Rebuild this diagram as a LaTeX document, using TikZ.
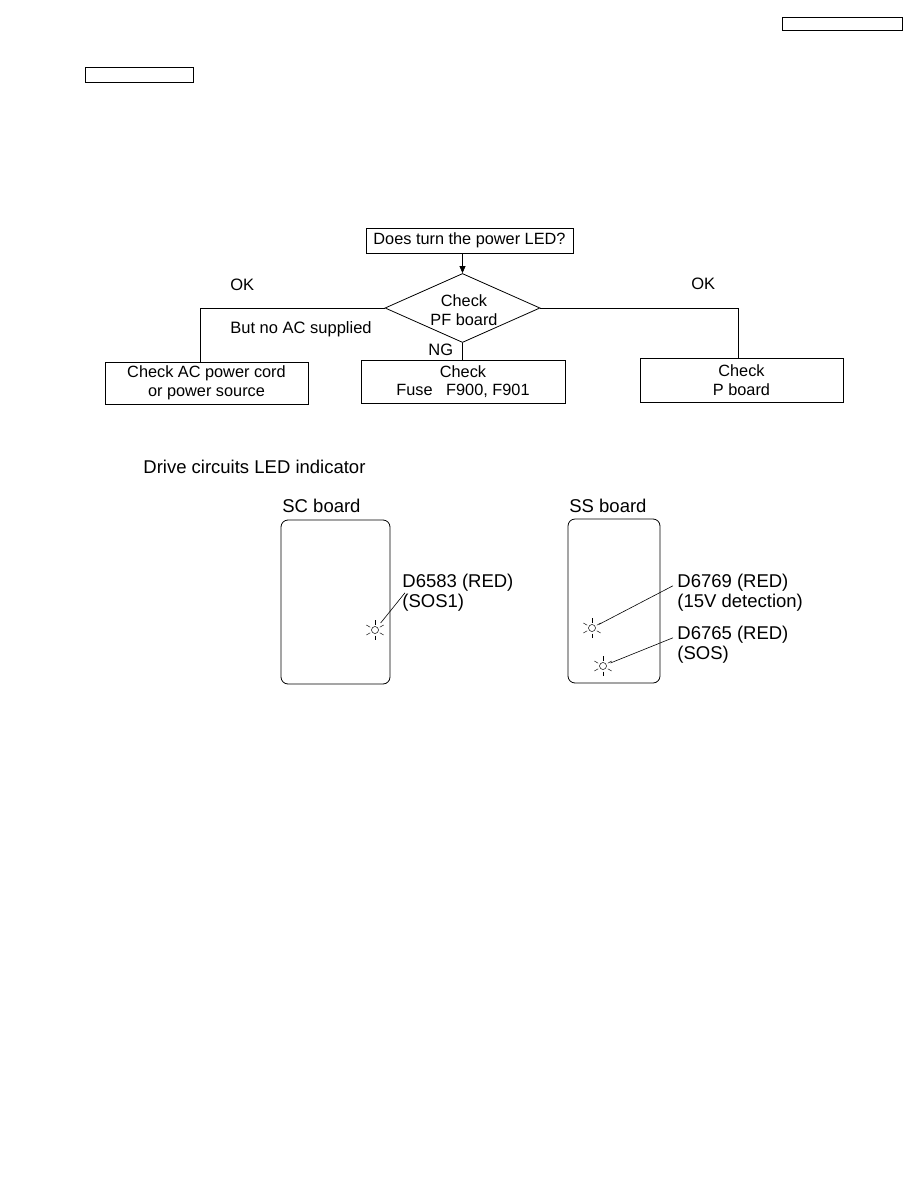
\documentclass[tikz,border=0pt]{standalone}
\usepackage{fontspec}
\setmainfont{Liberation Sans}
\usetikzlibrary{shapes.geometric,arrows.meta,calc}

\begin{document}
\begin{tikzpicture}[x=1pt, y=-1pt, line width=0.8pt,
    chkbox/.style={draw, align=center, inner sep=0pt, font=\fontsize{16.3}{18.5}\selectfont},
    flowtxt/.style={font=\fontsize{16.5}{19}\selectfont, inner sep=0pt, anchor=base west},
    boardtxt/.style={font=\fontsize{18.5}{19.5}\selectfont, inner sep=0pt, anchor=base west},
    ledtxt/.style={font=\fontsize{18.5}{19.5}\selectfont, inner sep=0pt, align=left, anchor=north west},
    board/.style={draw, rounded corners=7pt},
    led/.pic={
      \draw[line width=0.5pt] (0,0) circle (3.5);
      \foreach \a in {30,90,150,210,270,330}
        \draw[line width=0.45pt] (\a:5.5) -- (\a:10);
    }]
  \useasboundingbox (0,0) rectangle (918,1188);

  % --- page header boxes ---------------------------------------------------
  \draw (782,17) rectangle (902,30);
  \draw (85,67) rectangle (193,82);

  % --- flowchart -------------------------------------------------------------
  \node[chkbox, minimum width=207, minimum height=25] (led) at (469.5,240.5) {Does turn the power LED?};
  \node[draw, diamond, aspect=2.25, minimum width=155, minimum height=69, inner sep=0pt] (pf) at (462.5,308) {};
  \node[align=center, inner sep=0pt, font=\fontsize{16.3}{19}\selectfont] (pftxt) at (464,310) {Check\\PF board};
  \node[chkbox, minimum width=203, minimum height=42] (ac) at (206.5,383) {Check AC power cord\\or power source};
  \node[chkbox, minimum width=204, minimum height=43] (fuse) at (463,381.5) {Check\\Fuse\ \ \ F900, F901};
  \node[chkbox, minimum width=203, minimum height=44] (pb) at (741.5,380) {Check\\P board};

  \draw[-{Triangle[length=7pt,width=6pt]}] (led.south -| pf.north) -- (pf.north);
  \draw (pf.west) -| ([xshift=-6pt]ac.north);
  \draw (pf.south) -- (pf.south |- fuse.north);
  \draw (pf.east) -| ([xshift=-3pt]pb.north);

  \node[flowtxt] (okl) at (230,290) {OK};
  \node[flowtxt] (okr) at (691,289) {OK};
  \node[flowtxt] (noac) at (230,333) {But no AC supplied};
  \node[flowtxt] (ng) at (428,355) {NG};

  % --- LED indicator boards --------------------------------------------------
  \node[boardtxt] (drive) at (143,473) {Drive circuits LED indicator};

  \node[boardtxt] (sclbl) at (282,512) {SC board};
  \draw[board] (281,520) rectangle (390,684);
  \node[boardtxt] (sslbl) at (569,512) {SS board};
  \draw[board] (568,519) rectangle (660,683);

  \coordinate (d6583) at (375,630);
  \coordinate (d6769) at (592,628);
  \coordinate (d6765) at (603,666);
  \foreach \c in {d6583,d6769,d6765}
    \pic at (\c) {led};

  \node[ledtxt] (t6583) at (402,574) {D6583 (RED)\\(SOS1)};
  \node[ledtxt] (t6769) at (677,574) {D6769 (RED)\\(15V detection)};
  \node[ledtxt] (t6765) at (677,626) {D6765 (RED)\\(SOS)};

  \draw[line width=0.6pt] ($(d6583)!9pt!([xshift=3pt]t6583.west)$) -- ([xshift=3pt]t6583.west);
  \draw[line width=0.6pt] ($(d6769)!8pt!([xshift=-4pt,yshift=7pt]t6769.west)$) -- ([xshift=-4pt,yshift=7pt]t6769.west);
  \draw[line width=0.6pt] ($(d6765)!8pt!([xshift=-4pt,yshift=7pt]t6765.west)$) -- ([xshift=-4pt,yshift=7pt]t6765.west);
\end{tikzpicture}
\end{document}
